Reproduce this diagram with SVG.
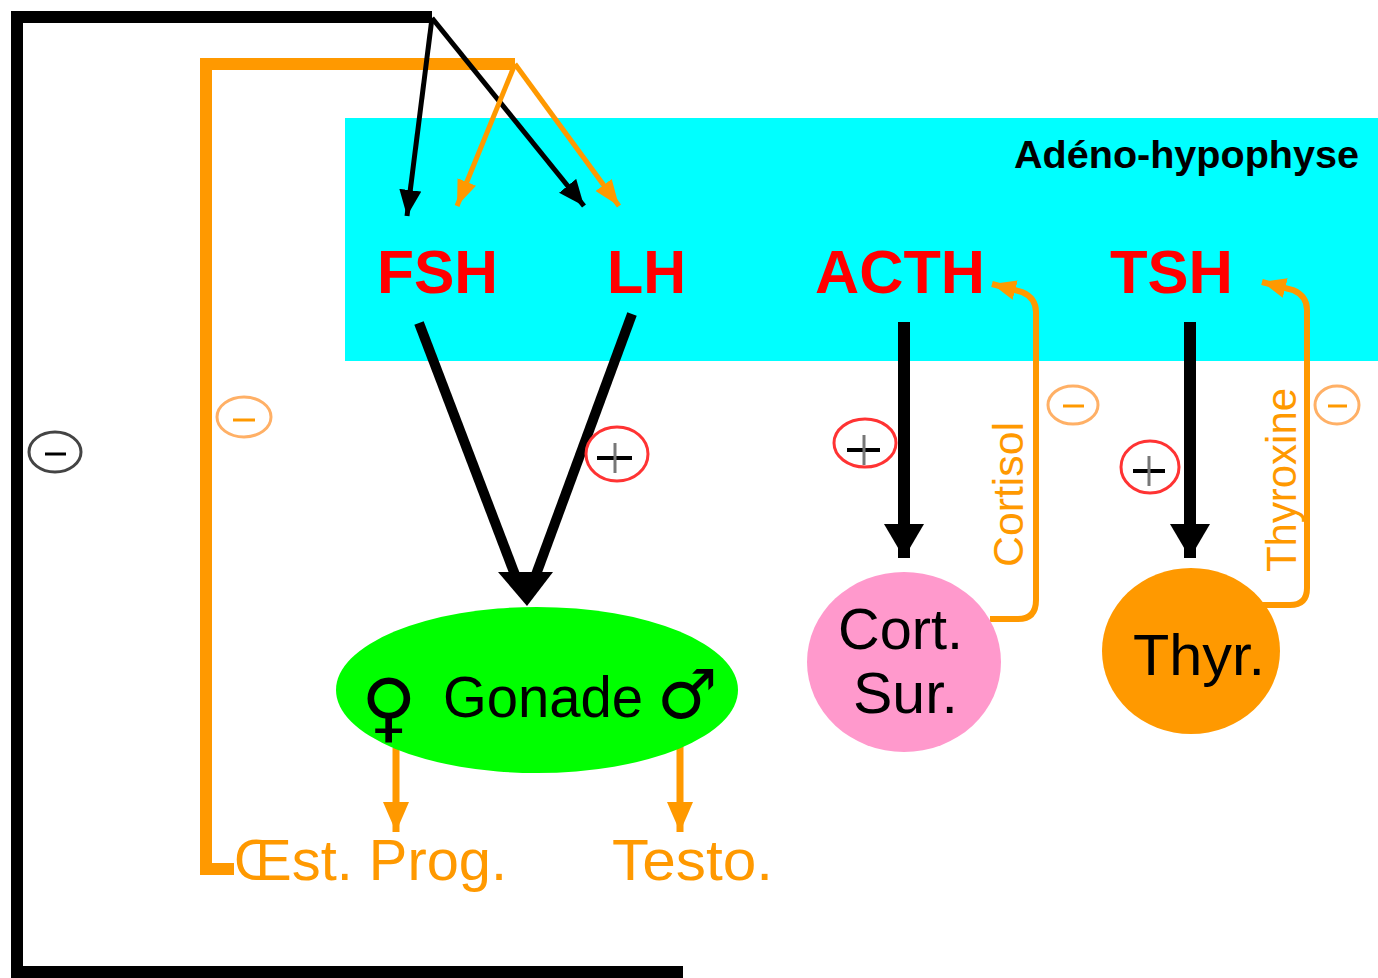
<svg xmlns="http://www.w3.org/2000/svg" width="1378" height="978" viewBox="0 0 1378 978">
<style>
.hor{font-family:"Liberation Sans",Arial,sans-serif;font-weight:bold;font-size:61px;fill:#ff0000}
.lbl{font-family:"Liberation Sans",Arial,sans-serif;font-size:57px;fill:#000}
.org{font-family:"Liberation Sans",Arial,sans-serif;font-size:57px;fill:#ff9900}
.rot{font-family:"Liberation Sans",Arial,sans-serif;font-size:42px;fill:#ff9900}
.sym{font-family:"DejaVu Sans",sans-serif;fill:#000}
.blk{fill:none;stroke:#000}
.ora{fill:none;stroke:#ff9900}
.sgn{fill:#fff;stroke-width:3}
</style>
<defs>
<marker id="hb" markerUnits="userSpaceOnUse" markerWidth="30" markerHeight="24" refX="26" refY="11" orient="auto"><path d="M0,0 L26,11 L0,22 Z" fill="#000"/></marker>
<marker id="ho" markerUnits="userSpaceOnUse" markerWidth="30" markerHeight="24" refX="26" refY="10" orient="auto"><path d="M0,0 L26,10 L0,20 Z" fill="#ff9900"/></marker>
<marker id="hbb" markerUnits="userSpaceOnUse" markerWidth="36" markerHeight="42" refX="34" refY="20" orient="auto"><path d="M0,0 L34,20 L0,40 Z" fill="#000"/></marker>
<marker id="hod" markerUnits="userSpaceOnUse" markerWidth="32" markerHeight="28" refX="30" refY="13" orient="auto"><path d="M0,0 L30,13 L0,26 Z" fill="#ff9900"/></marker>
<marker id="hof" markerUnits="userSpaceOnUse" markerWidth="26" markerHeight="22" refX="24" refY="10" orient="auto"><path d="M0,0 L24,10 L0,20 Z" fill="#ff9900"/></marker>
</defs>

<g id="adeno-hypophyse">
<rect x="345" y="118" width="1033" height="243" fill="#00ffff"/>
<text x="1014" y="168" font-family="'Liberation Sans',Arial,sans-serif" font-weight="bold" font-size="39" textLength="345" lengthAdjust="spacingAndGlyphs">Adéno-hypophyse</text>
</g>

<g id="connectors">
<path class="blk" stroke-width="12" d="M683,972 H17 V17 H432"/>
<path class="ora" stroke-width="12" d="M234,869 H206 V64 H515"/>
<line class="blk" stroke-width="5" x1="432" y1="18" x2="407" y2="216" marker-end="url(#hb)"/>
<line class="blk" stroke-width="5" x1="432" y1="18" x2="584" y2="206" marker-end="url(#hb)"/>
<line class="ora" stroke-width="5" x1="515" y1="64" x2="457" y2="206" marker-end="url(#ho)"/>
<line class="ora" stroke-width="5" x1="515" y1="64" x2="619" y2="206" marker-end="url(#ho)"/>
<line class="blk" stroke-width="10" x1="419" y1="323" x2="517" y2="580"/>
<line class="blk" stroke-width="10" x1="632" y1="314" x2="534" y2="580"/>
<polygon points="498,572 553,572 527,606" fill="#000"/>
<line class="blk" stroke-width="12" x1="904" y1="322" x2="904" y2="558" marker-end="url(#hbb)"/>
<line class="blk" stroke-width="12" x1="1190" y1="322" x2="1190" y2="558" marker-end="url(#hbb)"/>
<line class="ora" stroke-width="7" x1="396" y1="748" x2="396" y2="832" marker-end="url(#hod)"/>
<line class="ora" stroke-width="7" x1="680" y1="727" x2="680" y2="832" marker-end="url(#hod)"/>
<path class="ora" stroke-width="6" d="M990,619 H1018 Q1036,619 1036,600 V312 Q1036,298 1022,292 L992,284" marker-end="url(#hof)"/>
<path class="ora" stroke-width="6" d="M1262,605 H1290 Q1307,605 1307,588 V310 Q1307,296 1293,290 L1262,282" marker-end="url(#hof)"/>
</g>

<g id="fsh"><text class="hor" x="377" y="293" textLength="121" lengthAdjust="spacingAndGlyphs">FSH</text></g>
<g id="lh"><text class="hor" x="607" y="293" textLength="79" lengthAdjust="spacingAndGlyphs">LH</text></g>
<g id="acth"><text class="hor" x="815" y="293" textLength="170" lengthAdjust="spacingAndGlyphs">ACTH</text></g>
<g id="tsh"><text class="hor" x="1110" y="293" textLength="123" lengthAdjust="spacingAndGlyphs">TSH</text></g>

<g id="gonade">
<ellipse cx="537" cy="690" rx="201" ry="83" fill="#00ff00"/>
<text class="sym" x="361" y="733" font-size="76">♀</text>
<text class="lbl" x="443" y="717" textLength="200" lengthAdjust="spacingAndGlyphs">Gonade</text>
<text class="sym" x="657" y="718" font-size="68">♂</text>
</g>

<g id="cort-sur">
<ellipse cx="904" cy="662" rx="97" ry="90" fill="#ff99cc"/>
<text class="lbl" x="838" y="649" textLength="125" lengthAdjust="spacingAndGlyphs">Cort.</text>
<text class="lbl" x="853" y="713" textLength="105" lengthAdjust="spacingAndGlyphs">Sur.</text>
</g>

<g id="thyr">
<ellipse cx="1191" cy="651" rx="89" ry="83" fill="#ff9900"/>
<text class="lbl" x="1133" y="675" textLength="132" lengthAdjust="spacingAndGlyphs">Thyr.</text>
</g>

<g id="oest-prog"><text class="org" x="234" y="880" textLength="273" lengthAdjust="spacingAndGlyphs">Œst. Prog.</text></g>
<g id="testo"><text class="org" x="612" y="880" textLength="161" lengthAdjust="spacingAndGlyphs">Testo.</text></g>

<g id="cortisol-label"><text class="rot" transform="translate(1023,567) rotate(-90)" textLength="145" lengthAdjust="spacingAndGlyphs">Cortisol</text></g>
<g id="thyroxine-label"><text class="rot" transform="translate(1296,572) rotate(-90)" textLength="184" lengthAdjust="spacingAndGlyphs">Thyroxine</text></g>

<g id="signs">
<g id="minus-black"><ellipse class="sgn" cx="55" cy="452" rx="26" ry="20" stroke="#444"/><line x1="45" y1="454" x2="66" y2="454" stroke="#000" stroke-width="3"/></g>
<g id="minus-orange-left"><ellipse class="sgn" cx="244" cy="417" rx="27" ry="20" stroke="#ffb066"/><line x1="233" y1="420" x2="255" y2="420" stroke="#ff9900" stroke-width="3"/></g>
<g id="plus-lh"><ellipse class="sgn" cx="617" cy="454" rx="31" ry="27" stroke="#ff3333"/><line x1="597" y1="458" x2="632" y2="458" stroke="#000" stroke-width="4"/><line x1="615" y1="443" x2="615" y2="473" stroke="#777" stroke-width="3"/></g>
<g id="plus-acth"><ellipse class="sgn" cx="865" cy="443" rx="31" ry="24" stroke="#ff3333"/><line x1="847" y1="450" x2="880" y2="450" stroke="#000" stroke-width="4"/><line x1="864" y1="435" x2="864" y2="465" stroke="#777" stroke-width="3"/></g>
<g id="plus-tsh"><ellipse class="sgn" cx="1150" cy="467" rx="29" ry="26" stroke="#ff3333"/><line x1="1133" y1="471" x2="1165" y2="471" stroke="#000" stroke-width="4"/><line x1="1149" y1="456" x2="1149" y2="486" stroke="#777" stroke-width="3"/></g>
<g id="minus-cortisol"><ellipse class="sgn" cx="1073" cy="405" rx="25" ry="19" stroke="#ffb066"/><line x1="1063" y1="406" x2="1084" y2="406" stroke="#ff9900" stroke-width="3"/></g>
<g id="minus-thyroxine"><ellipse class="sgn" cx="1337" cy="405" rx="22" ry="19" stroke="#ffb066"/><line x1="1328" y1="406" x2="1347" y2="406" stroke="#ff9900" stroke-width="3"/></g>
</g>
</svg>
